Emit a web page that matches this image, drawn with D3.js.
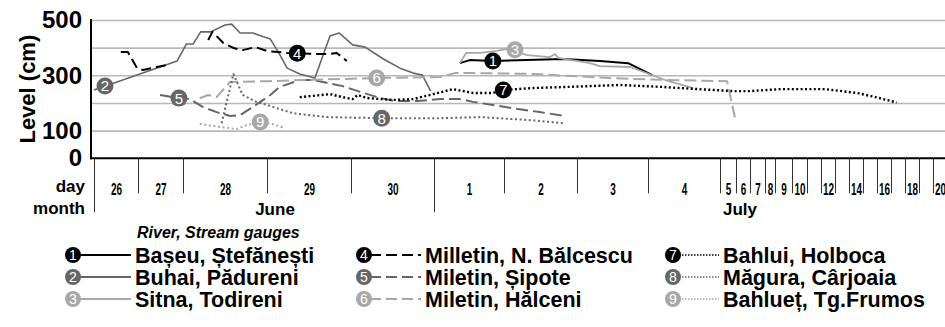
<!DOCTYPE html>
<html>
<head>
<meta charset="utf-8">
<script src="https://cdn.jsdelivr.net/npm/d3@7"></script>
<style>
  body { margin: 0; background: #fff; }
  svg { display: block; }
  text { font-family: "Liberation Sans", Arial, Helvetica, sans-serif; }
</style>
</head>
<body>
<svg id="chart" width="945" height="327"></svg>
<script>
// ---- Data -------------------------------------------------------------
// Time axis: one cell per day, 26 June .. 20 July (index 0 = 26 June 00:00)
const dayLabels = ["26","27","28","29","30","1","2","3","4","5","6","7","8","9","10","","12","","14","","16","","18","","20"];
const monthNames = ["June", "July"];
const monthStart = [0, 5];            // first day index of each month
const levelTicks = [0, 100, 300, 500];
const gridLevels = [100, 200, 300, 400, 500];

const stationNames = [
  "Bașeu, Ștefănești", "Buhai, Pădureni", "Sitna, Todireni",
  "Milletin, N. Bălcescu", "Miletin, Șipote", "Miletin, Hălceni",
  "Bahlui, Holboca", "Măgura, Cârjoaia", "Bahlueț, Tg.Frumos"
];

// Water level (cm) as [day index, level]; null breaks a record gap
const baseuStefanesti = [[5.37,344],[5.51,355],[5.84,352],[6.81,359],[7.32,352],[7.72,344],[8.06,301]];
const buhaiPadureni = [[0,247],[1.87,352],[2.04,413],[2.12,413],[2.21,457],[2.33,457],[2.5,482],[2.58,485],
  [2.68,453],[2.83,453],[2.95,440],[3.04,431],[3.14,381],[3.24,326],[3.39,305],[3.57,290],[3.75,442],
  [3.86,453],[4.02,410],[4.17,402],[4.39,359],[4.59,326],[4.75,308],[4.86,301],[4.96,243]];
const sitnaTodireni = [[5.37,344],[5.46,381],[5.66,381],[5.9,388],[6.11,399],[6.22,381],[6.32,373],
  [6.63,366],[6.70,377],[6.74,363],[7.18,344],[7.32,333],[7.75,330],[8.24,283],[8.63,254]];
const milletinBalcescu = [[0.61,384],[0.77,384],[0.98,326],[1.11,319],[1.42,330],[1.64,337],[2.0,null],
  [2.30,428],[2.35,457],[2.48,417],[2.6,399],[2.71,391],[2.86,402],[3.0,388],[3.24,381],[3.61,377],
  [3.75,377],[3.83,381],[3.95,352]];
const miletinSipote = [[1.49,229],[1.89,218],[2.08,214],[2.24,185],[2.40,167],[2.56,153],[2.68,156],
  [2.83,185],[3.04,229],[3.15,258],[3.39,283],[3.55,283],[3.90,261],[4.11,240],[4.35,218],[4.53,207],
  [4.80,207],[5.09,214],[5.37,214],[5.56,204],[6.12,181],[6.49,167],[6.84,153]];
const miletinHalceni = [[2.20,217],[2.30,229],[2.40,221],[2.56,276],[3.04,279],[3.39,283],[4.31,290],
  [5.09,294],[5.30,308],[5.56,308],[6.40,305],[7.46,290],[8.26,283],[9.44,279],[9.94,145]];
const bahluiHolboca = [[3.39,221],[3.75,232],[3.90,221],[4.02,214],[4.08,229],[4.19,218],[4.51,211],
  [4.75,214],[4.99,232],[5.27,250],[5.56,236],[5.84,236],[5.99,247],[6.40,254],[6.86,258],[7.61,265],
  [8.2,258],[8.7,250],[9.8,243],[11.0,243],[13.3,250],[16.3,250],[16.8,247],[18.6,236],[19.9,221],[21.4,202]];
const maguraCarjoaia = [[2.46,127],[2.60,305],[2.71,229],[2.88,203],[3.0,193],[3.12,181],[3.31,163],
  [3.71,149],[4.37,145],[5.09,145],[5.66,149],[6.36,138],[6.81,127]];
const bahluetFrumos = [[2.20,124],[2.44,113],[2.64,106],[2.76,120],[2.92,131],[3.06,124],[3.21,109]];

// Where each station's numbered badge sits along its line (day index)
const badgeAt = [5.84, 0.25, 6.15, 3.36, 1.91, 4.31, 5.99, 4.37, 2.92];

// ---- Layout -----------------------------------------------------------
const dayEdges = [94,138,183,267,351,434,504,577,648,720,736,750,765,775,792,807,821,835,849,863,877,891,905,919,933,947];
const plotLeft = 91, plotRight = 945, plotTop = 20, plotBottom = 158.3;

const BLACK = "#000", DARK = "#666", LIGHT = "#a8a8a8";
const styles = [
  {color: BLACK, width: 2,   dash: null},
  {color: DARK,  width: 1.6, dash: null},
  {color: LIGHT, width: 1.8, dash: null},
  {color: BLACK, width: 2,   dash: "10,5"},
  {color: DARK,  width: 2,   dash: "12,5"},
  {color: LIGHT, width: 2,   dash: "12,5"},
  {color: BLACK, width: 2.4, dash: "2,2.4"},
  {color: DARK,  width: 2,   dash: "2,2.6"},
  {color: LIGHT, width: 2,   dash: "2,2.6"}
];
const seriesList = [baseuStefanesti, buhaiPadureni, sitnaTodireni, milletinBalcescu, miletinSipote,
  miletinHalceni, bahluiHolboca, maguraCarjoaia, bahluetFrumos];

const svg = d3.select("#chart");

const x = d3.scaleLinear().domain(d3.range(dayEdges.length)).range(dayEdges);
const y = d3.scaleLinear().domain([0, 500]).range([plotBottom, plotTop]);

// Horizontal grid
svg.append("g")
  .attr("transform", `translate(${plotLeft},0)`)
  .call(d3.axisLeft(y).tickValues(gridLevels).tickSize(-(plotRight - plotLeft)).tickFormat(""))
  .call(g => g.select(".domain").remove())
  .call(g => g.selectAll("line").attr("stroke", "#b8b8b8").attr("stroke-width", 1.6));

// Level axis labels
svg.append("g")
  .attr("transform", `translate(${plotLeft},0)`)
  .call(d3.axisLeft(y).tickValues(levelTicks).tickSize(0).tickPadding(9).tickFormat(d3.format("d")))
  .call(g => g.select(".domain").remove())
  .call(g => g.selectAll("text").attr("font-size", 24).attr("font-weight", "bold").attr("fill", "#000")
    .attr("font-family", "'Liberation Sans', Arial, sans-serif"));

svg.append("text")
  .attr("transform", `translate(27,${(plotTop + plotBottom) / 2}) rotate(-90)`)
  .attr("text-anchor", "middle").attr("dy", "0.35em")
  .attr("font-size", 22).attr("font-weight", "bold")
  .text("Level (cm)");

// Day boundary ticks below the axis
const dayIdx = d3.range(dayLabels.length);
svg.append("g")
  .attr("transform", `translate(0,${plotBottom})`)
  .call(d3.axisBottom(x).tickValues(dayIdx).tickSize(35).tickFormat(""))
  .call(g => g.select(".domain").remove())
  .call(g => g.selectAll("line")
    .attr("stroke", "#333").attr("stroke-width", 1)
    .attr("y2", d => monthStart.includes(d) ? 54 : 35));

// Day numbers, condensed, centred in each cell
svg.append("g").selectAll("text").data(dayIdx).join("text")
  .attr("transform", d => `translate(${(x(d) + x(d + 1)) / 2 + 0.5},195) scale(0.62,1)`)
  .attr("text-anchor", "middle")
  .attr("font-size", 16).attr("font-weight", "bold")
  .text(d => dayLabels[d]);

svg.append("text").attr("x", 85).attr("y", 192).attr("text-anchor", "end")
  .attr("font-size", 17).attr("font-weight", "bold").text("day");
svg.append("text").attr("x", 85).attr("y", 214).attr("text-anchor", "end")
  .attr("font-size", 17).attr("font-weight", "bold").text("month");

const monthCentre = [275, 740];
svg.append("g").selectAll("text").data(monthNames).join("text")
  .attr("x", (d, i) => monthCentre[i]).attr("y", 215).attr("text-anchor", "middle")
  .attr("font-size", 17).attr("font-weight", "bold")
  .text(d => d);

// Axis frame
svg.append("line").attr("x1", plotLeft).attr("x2", plotLeft).attr("y1", plotTop - 1).attr("y2", plotBottom + 1)
  .attr("stroke", "#000").attr("stroke-width", 2);
svg.append("line").attr("x1", plotLeft - 1).attr("x2", plotRight).attr("y1", plotBottom).attr("y2", plotBottom)
  .attr("stroke", "#000").attr("stroke-width", 2);

// Series lines
const line = d3.line().defined(d => d[1] != null).x(d => x(d[0])).y(d => y(d[1]));
const lines = svg.append("g").attr("fill", "none");
seriesList.forEach((data, i) => {
  const s = styles[i];
  lines.append("path").datum(data)
    .attr("d", line)
    .attr("stroke", s.color).attr("stroke-width", s.width)
    .attr("stroke-dasharray", s.dash)
    .attr("stroke-linejoin", "round");
});

// Level of a series at a given time (linear between readings)
function levelAt(data, t) {
  const pts = data.filter(d => d[1] != null);
  for (let k = 0; k < pts.length - 1; k++) {
    const a = pts[k], b = pts[k + 1];
    if (t >= a[0] && t <= b[0]) return a[1] + (b[1] - a[1]) * (t - a[0]) / (b[0] - a[0]);
  }
  return pts[pts.length - 1][1];
}

function badge(g, cx, cy, r, color, num, fs) {
  g.append("circle").attr("cx", cx).attr("cy", cy).attr("r", r).attr("fill", color);
  g.append("text").attr("x", cx).attr("y", cy).attr("dy", "0.36em")
    .attr("text-anchor", "middle").attr("fill", "#fff")
    .attr("font-size", fs).text(num);
}

const badges = svg.append("g");
seriesList.forEach((data, i) => {
  const t = badgeAt[i];
  badge(badges, x(t), y(levelAt(data, t)), 8.5, styles[i].color, i + 1, 15);
});

// Legend
svg.append("text").attr("x", 137).attr("y", 238)
  .attr("font-size", 16).attr("font-weight", "bold").attr("font-style", "italic")
  .text("River, Stream gauges");

const legCircle = [73, 364, 673];
const legText = [135, 425, 723];
const legRow = [255, 277, 299];
const legend = svg.append("g");
stationNames.forEach((name, i) => {
  const col = Math.floor(i / 3), row = i % 3;
  const s = styles[i];
  const cy = legRow[row];
  legend.append("line")
    .attr("x1", legCircle[col] + 6).attr("x2", legText[col] - 4)
    .attr("y1", cy).attr("y2", cy)
    .attr("stroke", s.color)
    .attr("stroke-width", i >= 6 ? 1.6 : 2)
    .attr("stroke-dasharray", i >= 6 ? "1.5,1.5" : (i >= 3 ? "11,5" : null));
  badge(legend, legCircle[col], cy, 8, s.color, i + 1, 14);
  legend.append("text").attr("x", legText[col]).attr("y", cy).attr("dy", "0.36em")
    .attr("font-size", 21.5).attr("font-weight", "bold")
    .text(name);
});
</script>
</body>
</html>
